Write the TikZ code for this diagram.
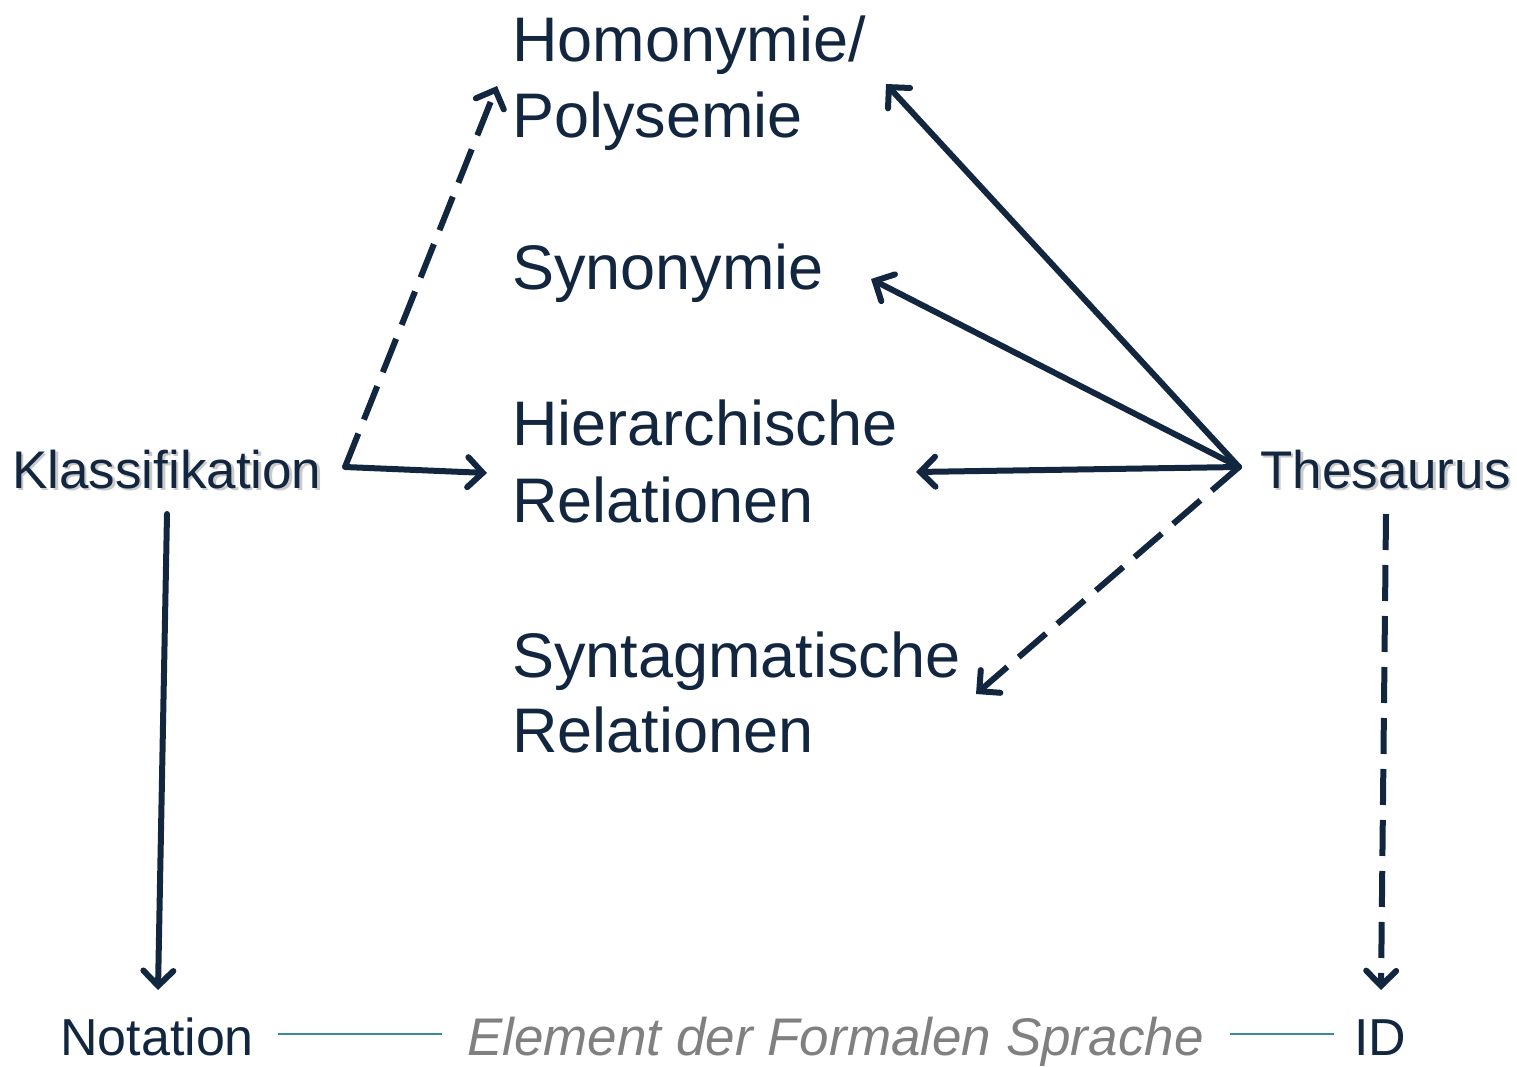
\documentclass[tikz,border=0pt]{standalone}
\usepackage{fontspec}
\setmainfont{Liberation Sans}
\usetikzlibrary{arrows.meta}
\definecolor{navy}{HTML}{12263F}
\definecolor{greytext}{HTML}{808080}
\definecolor{tealline}{HTML}{3A8AA0}
\begin{document}
\begin{tikzpicture}[x=1pt,y=-1pt,
  big/.style={anchor=base west,inner sep=0pt,text=navy,font=\fontsize{63}{77}\selectfont},
  mid/.style={anchor=base west,inner sep=0pt,text=navy,font=\fontsize{53}{64}\selectfont},
  shadowtxt/.style={anchor=base west,inner sep=0pt,text=black!35,opacity=0.6,font=\fontsize{53}{64}\selectfont},
  conn/.style={draw=navy,line width=6pt,line cap=round,-{Straight Barb[length=15pt,width=30pt,line cap=round]}},
  dconn/.style={conn,line cap=butt,dash pattern=on 36pt off 15pt},
  thin/.style={draw=tealline,line width=1.5pt}]
\useasboundingbox (0,0) rectangle (1517,1067);
% texts
\node[big] (homo1) at (512,62) {Homonymie/};
\node[big] (homo2) at (512,138) {Polysemie};
\node[big] (syn) at (512,290) {Synonymie};
\node[big] (hier1) at (512,445) {Hierarchische};
\node[big] (hier2) at (512,522) {Relationen};
\node[big] (synt1) at (512,677) {Syntagmatische};
\node[big] (synt2) at (512,752) {Relationen};
\node[shadowtxt] at (14.5,490.5) {Klassifikation};
\node[mid] (klass) at (12,488) {Klassifikation};
\node[shadowtxt] at (1262.5,490.5) {Thesaurus};
\node[mid] (thes) at (1260,488) {Thesaurus};
\node[mid,font=\fontsize{52}{62}\selectfont] (nota) at (60,1055) {Notation};
\node[mid,text=greytext,font=\fontsize{53}{64}\selectfont\itshape] (elem) at (467,1055) {Element der Formalen Sprache};
\node[mid,font=\fontsize{52}{62}\selectfont] (id) at (1354,1055) {ID};
% connector coordinates
\coordinate (kS) at (345,467);
\coordinate (kHomo) at (497,86);
\coordinate (kHier) at (487,473);
\coordinate (kDown) at (167,514);
\coordinate (kNota) at (158,990);
\coordinate (tS) at (1239,467);
\coordinate (tHomo) at (886,84);
\coordinate (tSyn) at (871,279);
\coordinate (tHier) at (916,472);
\coordinate (tSynt) at (976,694);
\coordinate (tDown) at (1386,514);
\coordinate (tID) at (1381,990);
\coordinate (l1a) at (278,1034);
\coordinate (l1b) at (442,1034);
\coordinate (l2a) at (1230,1034);
\coordinate (l2b) at (1334,1034);
% connectors
\draw[dconn] (kS) -- (kHomo);
\draw[conn] (kS) -- (kHier);
\draw[conn] (kDown) -- (kNota);
\draw[conn] (tS) -- (tHomo);
\draw[conn] (tS) -- (tSyn);
\draw[conn] (tS) -- (tHier);
\draw[dconn] (tS) -- (tSynt);
\draw[dconn] (tDown) -- (tID);
\draw[thin] (l1a) -- (l1b);
\draw[thin] (l2a) -- (l2b);
\end{tikzpicture}
\end{document}
